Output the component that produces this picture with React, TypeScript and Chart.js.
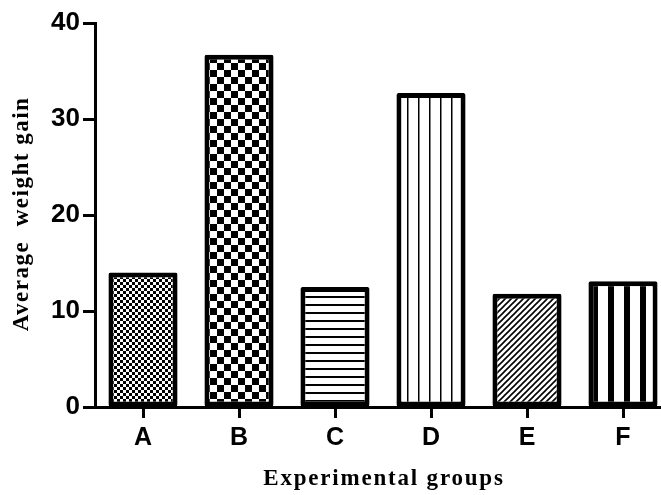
import React, { useEffect, useRef } from "react";
import { Chart, registerables } from "chart.js";

Chart.register(...registerables);

const categories = ["A", "B", "C", "D", "E", "F"];
const values = [14, 36.7, 12.5, 32.7, 11.8, 13.1];
const yTicks = [0, 10, 20, 30, 40];
const yTitle = "Average  weight gain";
const xTitle = "Experimental groups";

function makeTile(w: number, h: number, draw: (c: CanvasRenderingContext2D) => void) {
  const cv = document.createElement("canvas");
  cv.width = w;
  cv.height = h;
  const c = cv.getContext("2d")!;
  c.fillStyle = "#fff";
  c.fillRect(0, 0, w, h);
  c.fillStyle = "#000";
  c.strokeStyle = "#000";
  draw(c);
  return cv;
}

function makePatterns(ctx: CanvasRenderingContext2D) {
  const checker = (s: number) =>
    makeTile(2 * s, 2 * s, (c) => {
      c.fillRect(0, 0, s, s);
      c.fillRect(s, s, s, s);
    });
  const tiles = [
    checker(3),
    checker(7),
    makeTile(8, 8, (c) => c.fillRect(0, 0, 8, 2)),
    makeTile(11, 8, (c) => c.fillRect(0, 0, 1.5, 8)),
    makeTile(6, 6, (c) => {
      c.lineWidth = 1.6;
      c.beginPath();
      c.moveTo(-1, 7);
      c.lineTo(7, -1);
      c.moveTo(-4, 4);
      c.lineTo(4, -4);
      c.moveTo(2, 10);
      c.lineTo(10, 2);
      c.stroke();
    }),
    makeTile(16, 8, (c) => c.fillRect(0, 0, 6, 8)),
  ];
  return tiles.map((t) => ctx.createPattern(t, "repeat")!);
}

const titlePlugin = {
  id: "spacedTitles",
  afterDraw(chart: any) {
    const { ctx, chartArea } = chart;
    ctx.save();
    ctx.fillStyle = "#000";
    ctx.font = "bold 23px 'Liberation Serif'";
    (ctx as any).letterSpacing = "1.8px";
    ctx.textAlign = "center";
    ctx.textBaseline = "middle";
    const cx = (chartArea.left + chartArea.right) / 2;
    ctx.fillText(xTitle, cx + 1, 479);
    (ctx as any).letterSpacing = "1.5px";
    ctx.translate(22, (chartArea.top + chartArea.bottom) / 2);
    ctx.rotate(-Math.PI / 2);
    ctx.fillText(yTitle, 1, 0);
    ctx.restore();
  },
};

export default function App() {
  const ref = useRef<HTMLCanvasElement>(null);
  useEffect(() => {
    const canvas = ref.current!;
    const ctx = canvas.getContext("2d")!;
    const patterns = makePatterns(ctx);
    const chart = new Chart(canvas, {
      type: "bar",
      data: {
        labels: categories,
        datasets: [
          {
            data: values,
            backgroundColor: patterns as any,
            borderColor: "#000",
            borderWidth: 5,
            borderSkipped: false,
            borderRadius: 2,
            barPercentage: 0.72,
            categoryPercentage: 1,
          },
        ],
      },
      plugins: [titlePlugin],
      options: {
        animation: false,
        responsive: false,
        devicePixelRatio: 1,
        layout: { padding: { top: 23, right: 29, left: 0, bottom: 0 } },
        plugins: { legend: { display: false }, tooltip: { enabled: false } },
        scales: {
          x: {
            offset: true,
            afterFit: (s: any) => {
              s.height = 88;
            },
            grid: {
              offset: false,
              drawOnChartArea: false,
              drawTicks: true,
              tickLength: 11,
              tickWidth: 3,
              tickColor: "#000",
            },
            border: { display: true, color: "#000", width: 3 },
            ticks: {
              color: "#000",
              padding: 5,
              font: { family: "Liberation Sans", weight: "bold", size: 25 },
            },
          },
          y: {
            min: 0,
            max: 40,
            afterFit: (s: any) => {
              s.width = 95;
            },
            afterBuildTicks: (s: any) => {
              s.ticks = yTicks.map((v) => ({ value: v }));
            },
            grid: {
              drawOnChartArea: false,
              drawTicks: true,
              tickLength: 12,
              tickWidth: 3,
              tickColor: "#000",
            },
            border: { display: true, color: "#000", width: 3 },
            ticks: {
              color: "#000",
              padding: 3,
              font: { family: "Liberation Sans", weight: "bold", size: 26 },
            },
          },
        },
      },
    });
    return () => chart.destroy();
  }, []);
  return (
    <div
      style={{
        position: "fixed",
        left: 0,
        top: 0,
        width: 661,
        height: 495,
        overflow: "hidden",
        background: "#fff",
      }}
    >
      <canvas ref={ref} width={700} height={495} style={{ width: 700, height: 495, display: "block" }} />
    </div>
  );
}
